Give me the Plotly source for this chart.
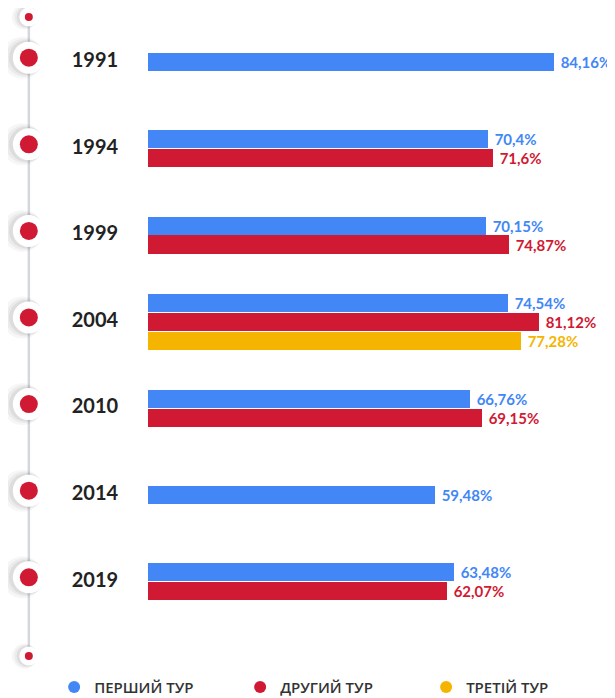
import plotly.graph_objects as go

years = ["1991", "1994", "1999", "2004", "2010", "2014", "2019"]
first_round = [84.16, 70.4, 70.15, 74.54, 66.76, 59.48, 63.48]
second_round = [None, 71.6, 74.87, 81.12, 69.15, None, 62.07]
third_round = [None, None, None, 77.28, None, None, None]
series_names = ["ПЕРШИЙ ТУР", "ДРУГИЙ ТУР", "ТРЕТІЙ ТУР"]
colors = ["#4287f5", "#d01a33", "#f5b400"]

series = [first_round, second_round, third_round]
bar_h = 0.218

fig = go.Figure()

# timeline
n = len(years)
tx = -24.7
fig.add_trace(go.Scatter(x=[tx, tx], y=[-0.52, n - 1 + 0.86], mode="lines",
                         line=dict(color="#d3d8de", width=2.5), hoverinfo="skip", showlegend=False))
big_y = [i - 0.05 for i in range(n)]
small_y = [-0.52, n - 1 + 0.86]
for dx, sz, op in [(-1.3, 42, 0.035), (-0.9, 38, 0.045), (-0.5, 35, 0.06)]:
    fig.add_trace(go.Scatter(x=[tx + dx] * n, y=big_y, mode="markers",
                             marker=dict(size=sz, color=f"rgba(0,0,0,{op})"), hoverinfo="skip", showlegend=False))
    fig.add_trace(go.Scatter(x=[tx + dx * 0.7] * 2, y=small_y, mode="markers",
                             marker=dict(size=sz * 0.6, color=f"rgba(0,0,0,{op})"), hoverinfo="skip", showlegend=False))
fig.add_trace(go.Scatter(x=[tx] * n, y=big_y, mode="markers",
                         marker=dict(size=32, color="white"), hoverinfo="skip", showlegend=False))
fig.add_trace(go.Scatter(x=[tx] * n, y=big_y, mode="markers",
                         marker=dict(size=18, color=colors[1]), hoverinfo="skip", showlegend=False))
fig.add_trace(go.Scatter(x=[tx] * 2, y=small_y, mode="markers",
                         marker=dict(size=19, color="white"), hoverinfo="skip", showlegend=False))
fig.add_trace(go.Scatter(x=[tx] * 2, y=small_y, mode="markers",
                         marker=dict(size=8, color=colors[1]), hoverinfo="skip", showlegend=False))

# year labels
fig.add_trace(go.Scatter(x=[-11.0] * n, y=list(range(n)), mode="text", text=years,
                         textfont=dict(family="Lato", size=20, color="#222222", weight="bold"),
                         hoverinfo="skip", showlegend=False))

# bars
for k, (vals, name, col) in enumerate(zip(series, series_names, colors)):
    xs, ys, txt = [], [], []
    for i in range(n):
        if vals[i] is None:
            continue
        present = [j for j in range(len(series)) if series[j][i] is not None]
        cnt = len(present)
        idx = present.index(k)
        xs.append(vals[i])
        ys.append(i + (idx - (cnt - 1) / 2) * bar_h)
        txt.append(" " + f"{vals[i]:g}".replace(".", ",") + "%")
    fig.add_trace(go.Bar(x=xs, y=ys, orientation="h", width=bar_h * 0.97, marker=dict(color=col, line=dict(width=0)),
                         text=txt, textposition="outside", cliponaxis=False,
                         textfont=dict(family="Lato", size=15, color=col, weight="bold"),
                         name=name, legendgroup=name, showlegend=False, hoverinfo="skip"))
    fig.add_trace(go.Scatter(x=[None], y=[None], mode="markers", marker=dict(size=14, color=col, symbol="circle"),
                             name=name, legendgroup=name, showlegend=True))

fig.update_layout(
    width=607, height=690,
    margin=dict(l=0, r=0, t=0, b=0, autoexpand=False),
    plot_bgcolor="white", paper_bgcolor="white",
    xaxis=dict(range=[-29.02, 96.8], visible=False, fixedrange=True),
    yaxis=dict(range=[7.344, -0.6236], visible=False, fixedrange=True),
    showlegend=True,
    legend=dict(orientation="h", x=0.076, xanchor="left", y=0.0155, yanchor="middle",
                entrywidth=141, entrywidthmode="pixels", itemsizing="constant",
                font=dict(family="Open Sans", size=15, color="#333333", weight=600),
                bgcolor="rgba(0,0,0,0)"),
    bargap=0,
)

fig.write_html("out.html")
